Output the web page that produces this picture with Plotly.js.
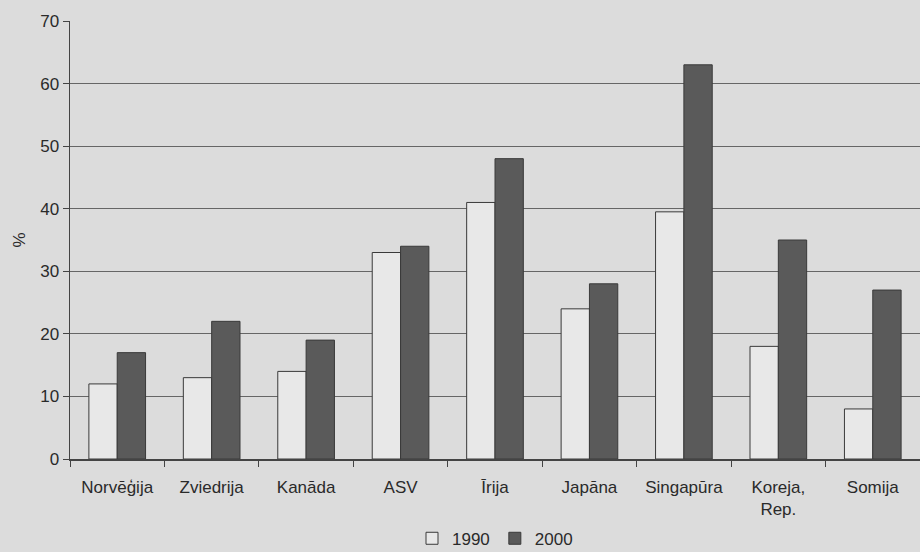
<!DOCTYPE html>
<html>
<head>
<meta charset="utf-8">
<script src="https://cdn.plot.ly/plotly-3.0.1.min.js"></script>
<style>html,body{margin:0;padding:0;background:#dcdcdc;}</style>
</head>
<body>
<div id="chart" style="width:920px;height:552px;"></div>
<script>
const categories = ["Norvēģija", "Zviedrija", "Kanāda", "ASV", "Īrija", "Japāna", "Singapūra", "Koreja,<br>Rep.", "Somija"];
const values1990 = [12, 13, 14, 33, 41, 24, 39.5, 18, 8];
const values2000 = [17, 22, 19, 34, 48, 28, 63, 35, 27];
const seriesNames = ["1990", "2000"];
const yTicks = [0, 10, 20, 30, 40, 50, 60, 70];

const traces = [
  {type: "bar", name: seriesNames[0], x: categories, y: values1990,
   marker: {color: "#e8e8e8", line: {color: "#3a3a3a", width: 1}}},
  {type: "bar", name: seriesNames[1], x: categories, y: values2000,
   marker: {color: "#5a5a5a", line: {color: "#3a3a3a", width: 1}}}
];

const layout = {
  width: 920, height: 552,
  margin: {l: 70, r: 0, t: 21, b: 93, autoexpand: false},
  paper_bgcolor: "#dcdcdc",
  plot_bgcolor: "#dcdcdc",
  font: {family: "Liberation Sans, Arial, sans-serif", size: 17, color: "#2a2a2a"},
  barmode: "group",
  bargap: 0.4,
  bargroupgap: 0,
  showlegend: true,
  legend: {orientation: "h", x: 0.5, xanchor: "center", y: -0.182, yanchor: "middle",
           font: {size: 17, color: "#2a2a2a"}, itemwidth: 30, bgcolor: "rgba(0,0,0,0)",
           borderwidth: 0},
  xaxis: {type: "category", automargin: false, showgrid: false, showline: true, linecolor: "#444", linewidth: 1.5,
          ticks: "outside", tickson: "boundaries", ticklen: 6, tickcolor: "#444",
          ticklabelstandoff: 12, tickangle: 0, tickfont: {size: 17, color: "#2a2a2a"}},
  yaxis: {range: [0, 70], automargin: false, tickvals: yTicks, showgrid: true, gridcolor: "#666", gridwidth: 1,
          showline: true, linecolor: "#444", linewidth: 1.5, ticks: "outside", ticklen: 6,
          tickcolor: "#444", zeroline: false, tickfont: {size: 17, color: "#2a2a2a"},
          title: {text: "%", standoff: 10, font: {size: 17, color: "#2a2a2a"}}}
};

Plotly.newPlot("chart", traces, layout, {staticPlot: true, displayModeBar: false});
</script>
</body>
</html>
